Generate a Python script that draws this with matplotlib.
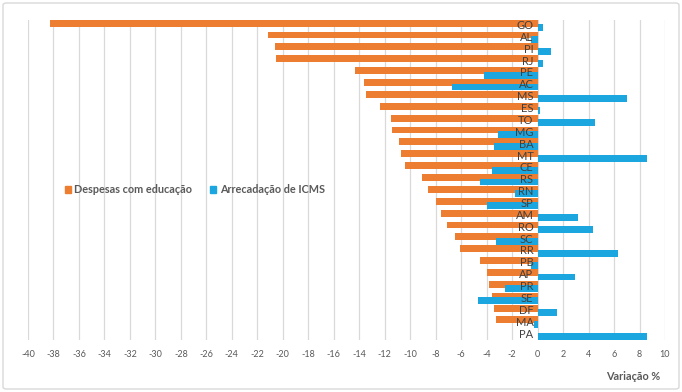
import matplotlib
matplotlib.use("Agg")
import matplotlib.pyplot as plt
from matplotlib.patches import FancyBboxPatch, Patch
import numpy as np

plt.rcParams['font.family'] = ['Lato', 'DejaVu Sans']

estados = ["GO", "AL", "PI", "RJ", "PE", "AC", "MS", "ES", "TO", "MG", "BA", "MT", "CE", "RS",
           "RN", "SP", "AM", "RO", "SC", "RR", "PB", "AP", "PR", "SE", "DF", "MA", "PA"]
despesas_educacao = [-38.3, -21.2, -20.6, -20.5, -14.35, -13.6, -13.5, -12.4, -11.5, -11.4, -10.9,
                     -10.7, -10.4, -9.1, -8.6, -8.0, -7.6, -7.15, -6.45, -6.1, -4.5, -3.95, -3.8,
                     -3.55, -3.45, -3.3, 0.0]
arrecadacao_icms = [0.4, -0.5, 1.05, 0.45, -4.2, -6.7, 7.0, 0.2, 4.5, -3.1, -3.4, 8.6, -3.6, -4.5,
                    -1.75, -3.95, 3.2, 4.35, -3.3, 6.35, -0.55, 2.95, -2.55, -4.7, 1.5, -0.25, 8.6]
xticks = list(range(-40, 11, 2))
serie_nomes = ["Despesas com educação", "Arrecadação de ICMS"]
eixo_x_titulo = "Variação %"

orange = "#ED7D31"
blue = "#1BA6E0"
txt = "#595959"

fig = plt.figure(figsize=(6.82, 3.92), dpi=100)
ax = fig.add_axes([28/682, 1-340/392, (665-28)/682, (340-19.5)/392])

y = np.arange(len(estados))
h = 0.58
off = 0.19
ax.barh(y - off, despesas_educacao, height=h, color=orange, zorder=2)
ax.barh(y + off, arrecadacao_icms, height=h, color=blue, zorder=3)

ax.set_ylim(len(estados) - 0.5, -0.5)
ax.set_xlim(-40, 10)
ax.set_xticks(xticks)
ax.set_xticklabels([str(t) for t in xticks], fontsize=6.5, color=txt)
ax.tick_params(axis='x', length=0, pad=7)
ax.set_yticks([])
ax.grid(axis='x', color="#D9D9D9", linewidth=0.9, zorder=0)
ax.set_axisbelow(True)
for s in ax.spines.values():
    s.set_visible(False)

for yi, name in zip(y, estados):
    ax.annotate(name, xy=(0, yi), xytext=(-3, 0), textcoords='offset points',
                ha='right', va='center', fontsize=8, color="#404040", zorder=5)

handles = [Patch(color=orange), Patch(color=blue)]
fig.legend(handles, serie_nomes, loc='center left', bbox_to_anchor=(55/682, 1-190/392),
           ncol=2, frameon=False, handlelength=0.6, handleheight=0.6,
           handletextpad=0.3, columnspacing=1.6, labelcolor=txt, prop={'weight': 'bold', 'size': 7.8})

fig.text(633/682, 1-376/392, eixo_x_titulo, ha='center', va='center', fontsize=7.8,
         fontweight='bold', color=txt)

border = FancyBboxPatch((3/682, 3/392), 676/682, 386/392, boxstyle="round,pad=0,rounding_size=0.005",
                        transform=fig.transFigure, fill=False, edgecolor="#D9D9D9", linewidth=1)
fig.patches.append(border)

fig.savefig("out.png", dpi=100)
